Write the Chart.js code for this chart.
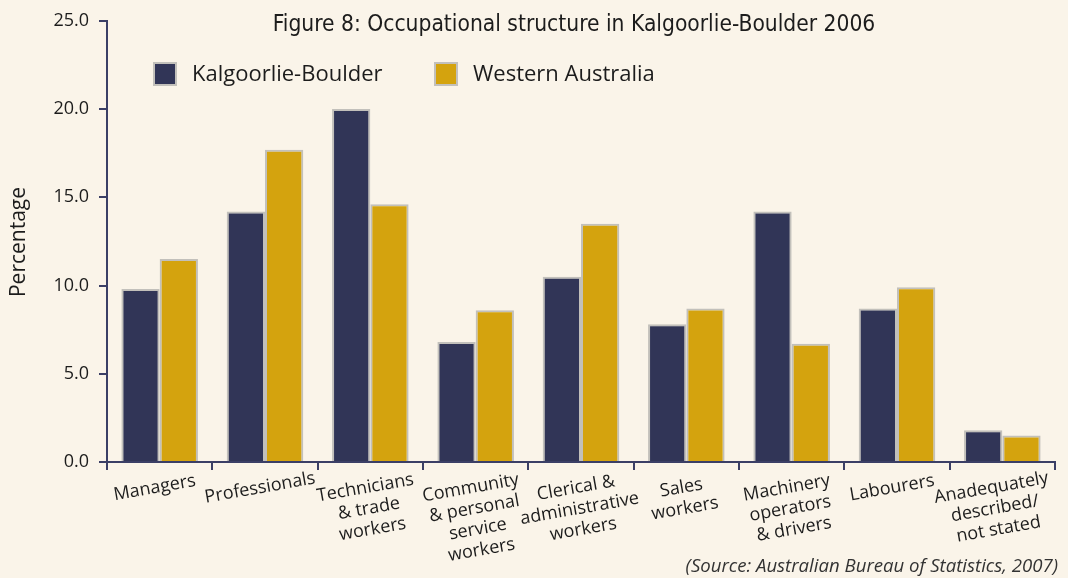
<!DOCTYPE html>
<html><head><meta charset="utf-8">
<script src="https://cdn.jsdelivr.net/npm/chart.js@4/dist/chart.umd.min.js"></script>
<style>html,body{margin:0;padding:0;background:#faf4e9;}#wrap{width:1068px;height:578px;}</style>
</head><body><div id="wrap"><canvas id="c" width="1068" height="578"></canvas></div>
<script>
const categories = [["Managers"],["Professionals"],["Technicians","& trade","workers"],["Community","& personal","service","workers"],["Clerical &","administrative","workers"],["Sales","workers"],["Machinery","operators","& drivers"],["Labourers"],["Anadequately","described/","not stated"]];
const seriesNames = ["Kalgoorlie-Boulder","Western Australia"];
const kalgoorlieBoulder = [9.8,14.2,20.0,6.8,10.5,7.8,14.2,8.7,1.8];
const westernAustralia = [11.5,17.7,14.6,8.6,13.5,8.7,6.7,9.9,1.5];
const yTickValues = [0,5,10,15,20,25];
const titleText = "Figure 8: Occupational structure in Kalgoorlie-Boulder 2006";
const sourceText = "(Source: Australian Bureau of Statistics, 2007)";
const yTitleText = "Percentage";

const NAVY = "#313557", GOLD = "#d4a30e", EDGE = "#c2c0bb", AXIS = "#3b3f66", TXT = "#1c1c1c";
const FONT = "'Open Sans', 'Noto Sans', sans-serif";

const overlay = {
  id: 'overlay',
  afterDraw(chart) {
    const ctx = chart.ctx, xs = chart.scales.x, area = chart.chartArea;
    ctx.save();
    // title
    ctx.fillStyle = TXT;
    ctx.font = "22.6px 'Liberation Sans Narrow', 'DejaVu Sans Condensed', sans-serif";
    ctx.textAlign = 'center'; ctx.textBaseline = 'middle';
    ctx.fillText(titleText, 574, 25);
    // legend
    const legendX = [153, 434];
    chart.data.datasets.forEach((ds, i) => {
      const lx = legendX[i];
      ctx.fillStyle = EDGE; ctx.fillRect(lx, 62, 24, 24);
      ctx.fillStyle = ds.backgroundColor; ctx.fillRect(lx + 2, 64, 20, 20);
      ctx.fillStyle = TXT; ctx.font = "22px " + FONT;
      ctx.textAlign = 'left'; ctx.textBaseline = 'middle';
      ctx.fillText(ds.label, lx + 39, 75);
    });
    // x labels
    ctx.font = "18px " + FONT; ctx.fillStyle = TXT;
    ctx.textAlign = 'center'; ctx.textBaseline = 'middle';
    const n = chart.data.labels.length;
    chart.data.labels.forEach((lines, i) => {
      const cx = xs.getPixelForValue(i) - (i === n - 1 ? 11 : 5);
      ctx.save();
      ctx.translate(cx, area.bottom + 26);
      ctx.rotate(-10 * Math.PI / 180);
      lines.forEach((ln, j) => ctx.fillText(ln, 0, j * 21));
      ctx.restore();
    });
    // y title
    ctx.save();
    ctx.translate(19, 242); ctx.rotate(-Math.PI / 2);
    ctx.font = "21px " + FONT; ctx.textAlign = 'center'; ctx.textBaseline = 'middle';
    ctx.fillText(yTitleText, 0, 0);
    ctx.restore();
    // source
    ctx.font = "italic 18.6px " + FONT; ctx.textAlign = 'right'; ctx.textBaseline = 'middle';
    ctx.fillStyle = "#333";
    ctx.fillText(sourceText, 1058, 567);
    ctx.restore();
  }
};

new Chart(document.getElementById('c'), {
  type: 'bar',
  data: {
    labels: categories,
    datasets: [
      { label: seriesNames[0], data: kalgoorlieBoulder, backgroundColor: NAVY, borderColor: EDGE, borderWidth: 2 },
      { label: seriesNames[1], data: westernAustralia, backgroundColor: GOLD, borderColor: EDGE, borderWidth: 2 }
    ]
  },
  options: {
    responsive: false, animation: false, devicePixelRatio: 1,
    layout: { padding: { top: 20, right: 13, left: 0, bottom: 0 } },
    datasets: { bar: { categoryPercentage: 0.727, barPercentage: 1.0 } },
    plugins: { legend: { display: false }, title: { display: false }, tooltip: { enabled: false } },
    scales: {
      x: {
        grid: { display: true, drawOnChartArea: false, drawTicks: true, tickLength: 8, color: AXIS, lineWidth: 2, offset: true },
        border: { display: true, color: AXIS, width: 2 },
        ticks: { display: false },
        afterFit(s) { s.height = 116; }
      },
      y: {
        min: 0, max: 25,
        afterBuildTicks(s) { s.ticks = yTickValues.map(v => ({ value: v })); },
        grid: { display: true, drawOnChartArea: false, drawTicks: true, tickLength: 8, color: AXIS, lineWidth: 2 },
        border: { display: true, color: AXIS, width: 2 },
        ticks: { color: TXT, padding: 10, font: { family: FONT, size: 18 }, callback: v => Number(v).toFixed(1) },
        afterFit(s) { s.width = 107; }
      }
    }
  },
  plugins: [overlay]
});
</script></body></html>
